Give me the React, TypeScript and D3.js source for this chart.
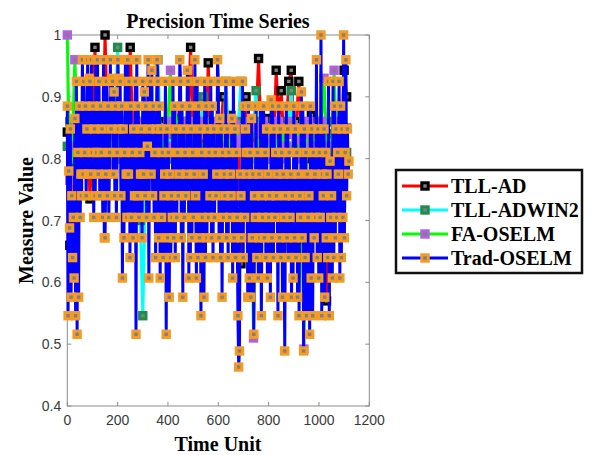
import React from 'react';
import * as d3 from 'd3';

const W = 589;
const H = 455;
const plot = { left: 67.3, right: 369.3, top: 35, bottom: 406 };

const xTicks = [0, 200, 400, 600, 800, 1000, 1200];
const yTicks = [0.4, 0.5, 0.6, 0.7, 0.8, 0.9, 1];

const seriesNames = ['TLL-AD', 'TLL-ADWIN2', 'FA-OSELM', 'Trad-OSELM'];
const lineColors = ['#ff0000', '#00ffff', '#00ff00', '#0000ff'];
const markerColors = ['#000000', '#1e8c4a', '#b45ee8', '#f59a23'];

// time step between samples of each series
const coarseStep = 10;
const fineStep = 3;

// TLL-AD, one sample every 10 time units
const tllAd = [
  0.843, 0.66, 0.82, 0.79, 0.85, 0.8, 0.83, 0.78, 0.86, 0.735,
  0.84, 0.98, 0.82, 0.86, 0.8, 1.0, 0.84, 0.81, 0.87, 0.83,
  0.8, 0.85, 0.82, 0.86, 0.79, 0.98, 0.84, 0.8, 0.85, 0.82,
  0.86, 0.81, 0.84, 0.78, 0.87, 0.82, 0.85, 0.8, 0.83, 0.86,
  0.8, 0.84, 0.82, 0.87, 0.79, 0.85, 0.81, 0.83, 0.86, 0.98,
  0.84, 0.8, 0.86, 0.82, 0.85, 0.79, 0.955, 0.83, 0.81, 0.86,
  0.82, 0.85, 0.9, 0.8, 0.84, 0.87, 0.81, 0.83, 0.86, 0.63,
  0.84, 0.9, 0.8, 0.85, 0.82, 0.86, 0.962, 0.83, 0.81, 0.865,
  0.8, 0.84, 0.82, 0.943, 0.86, 0.91, 0.83, 0.85, 0.925, 0.943,
  0.84, 0.86, 0.925, 0.82, 0.85, 0.8, 0.84, 0.87, 0.81, 0.86,
  0.83, 0.85, 0.8, 0.57, 0.84, 0.82, 0.86, 0.81, 0.85, 0.83,
  0.943, 0.9
];

// TLL-ADWIN2, one sample every 10 time units
const tllAdwin2 = [
  0.82, 0.86, 0.8, 0.84, 0.78, 0.85, 0.81, 0.83, 0.79, 0.86,
  0.82, 0.85, 0.8, 0.84, 0.87, 0.81, 0.83, 0.86, 0.8, 0.85,
  0.98, 0.84, 0.81, 0.86, 0.8, 0.85, 0.82, 0.84, 0.8, 0.7,
  0.546, 0.75, 0.84, 0.81, 0.86, 0.8, 0.96, 0.83, 0.85, 0.81,
  0.84, 0.8, 0.86, 0.82, 0.85, 0.79, 0.84, 0.81, 0.86, 0.83,
  0.8, 0.85, 0.82, 0.84, 0.9, 0.81, 0.86, 0.83, 0.8, 0.85,
  0.82, 0.86, 0.8, 0.925, 0.84, 0.81, 0.85, 0.83, 0.86, 0.925,
  0.82, 0.85, 0.8, 0.84, 0.86, 0.91, 0.81, 0.83, 0.85, 0.8,
  0.84, 0.82, 0.86, 0.81, 0.85, 0.83, 0.8, 0.84, 0.86, 0.91,
  0.82, 0.85, 0.8, 0.84, 0.86, 0.81, 0.83, 0.85, 0.8, 0.84,
  0.86, 0.82, 0.85, 0.8, 0.84, 0.81, 0.86, 0.83, 0.85, 0.82,
  0.84, 0.81
];

// FA-OSELM, one sample every 10 time units
const faOselm = [
  1.0, 0.765, 0.82, 0.96, 0.85, 0.8, 0.84, 0.81, 0.86, 0.79,
  0.84, 0.81, 0.86, 0.8, 0.85, 0.82, 0.84, 0.79, 0.86, 0.81,
  0.84, 0.8, 0.86, 0.82, 0.85, 0.81, 0.84, 0.8, 0.86, 0.83,
  0.8, 0.85, 0.82, 0.84, 0.86, 0.81, 0.83, 0.85, 0.8, 0.84,
  0.86, 0.943, 0.82, 0.88, 0.8, 0.85, 0.83, 0.81, 0.86, 0.84,
  0.82, 0.85, 0.8, 0.84, 0.86, 0.81, 0.83, 0.85, 0.8, 0.84,
  0.86, 0.82, 0.85, 0.81, 0.84, 0.8, 0.86, 0.83, 0.85, 0.82,
  0.84, 0.8, 0.86, 0.82, 0.51, 0.85, 0.81, 0.84, 0.86, 0.8,
  0.83, 0.85, 0.81, 0.84, 0.86, 0.8, 0.85, 0.82, 0.84, 0.86,
  0.81, 0.83, 0.85, 0.8, 0.492, 0.84, 0.86, 0.82, 0.85, 0.81,
  0.84, 0.86, 0.93, 0.82, 0.8, 0.79, 0.943, 0.82, 0.86, 0.84,
  0.82, 0.85
];

// Trad-OSELM, one sample every 3 time units (rows of 30 units)
const tradOselm = [
  0.885, 0.546, 0.78, 0.688, 0.848, 0.576, 0.74, 0.64, 0.705, 0.607,
  0.865, 0.546, 0.925, 0.516, 0.81, 0.576, 0.885, 0.705, 0.775, 0.74,
  0.96, 0.775, 0.925, 0.81, 0.885, 0.74, 0.848, 0.96, 0.775, 0.93,
  0.925, 0.775, 0.96, 0.81, 0.885, 0.705, 0.848, 0.74, 0.96, 0.81,
  0.96, 0.775, 0.925, 0.74, 0.885, 0.81, 0.848, 0.705, 0.96, 0.672,
  0.672, 0.775, 0.925, 0.74, 0.885, 0.705, 0.81, 0.96, 0.848, 0.93,
  0.925, 0.775, 0.908, 0.74, 0.885, 0.705, 0.81, 0.96, 0.848, 0.93,
  0.925, 0.74, 0.885, 0.607, 0.848, 0.672, 0.81, 0.96, 0.775, 0.705,
  0.96, 0.775, 0.925, 0.64, 0.885, 0.705, 0.81, 0.672, 0.848, 0.74,
  0.925, 0.516, 0.96, 0.74, 0.885, 0.705, 0.81, 0.775, 0.848, 0.672,
  0.925, 0.775, 0.908, 0.74, 0.885, 0.705, 0.82, 0.96, 0.607, 0.848,
  0.925, 0.775, 0.943, 0.74, 0.885, 0.705, 0.81, 0.64, 0.848, 0.96,
  0.925, 0.672, 0.885, 0.607, 0.848, 0.705, 0.81, 0.64, 0.74, 0.775,
  0.925, 0.516, 0.848, 0.672, 0.81, 0.576, 0.775, 0.64, 0.74, 0.705,
  0.925, 0.672, 0.885, 0.64, 0.848, 0.705, 0.81, 0.74, 0.775, 0.96,
  0.925, 0.672, 0.885, 0.576, 0.848, 0.705, 0.81, 0.74, 0.775, 0.943,
  0.925, 0.607, 0.885, 0.64, 0.848, 0.672, 0.81, 0.705, 0.775, 0.96,
  0.74, 0.607, 0.925, 0.64, 0.885, 0.672, 0.848, 0.546, 0.81, 0.705,
  0.775, 0.576, 0.925, 0.64, 0.885, 0.672, 0.848, 0.705, 0.81, 0.74,
  0.925, 0.672, 0.885, 0.64, 0.848, 0.705, 0.81, 0.74, 0.775, 0.96,
  0.925, 0.672, 0.865, 0.64, 0.848, 0.576, 0.81, 0.705, 0.775, 0.74,
  0.925, 0.672, 0.848, 0.64, 0.81, 0.705, 0.775, 0.74, 0.865, 0.607,
  0.925, 0.672, 0.848, 0.64, 0.81, 0.705, 0.546, 0.463, 0.489, 0.775,
  0.74, 0.672, 0.925, 0.64, 0.885, 0.705, 0.848, 0.81, 0.775, 0.576,
  0.885, 0.607, 0.81, 0.576, 0.865, 0.672, 0.775, 0.516, 0.74, 0.705,
  0.885, 0.64, 0.81, 0.607, 0.775, 0.672, 0.885, 0.546, 0.74, 0.705,
  0.885, 0.672, 0.81, 0.64, 0.848, 0.607, 0.775, 0.705, 0.74, 0.576,
  0.895, 0.672, 0.885, 0.64, 0.848, 0.705, 0.81, 0.74, 0.775, 0.546,
  0.885, 0.672, 0.848, 0.64, 0.81, 0.576, 0.775, 0.705, 0.489, 0.74,
  0.885, 0.672, 0.848, 0.64, 0.81, 0.705, 0.775, 0.576, 0.74, 0.607,
  0.885, 0.672, 0.848, 0.64, 0.81, 0.576, 0.775, 0.546, 0.74, 0.705,
  0.908, 0.672, 0.885, 0.489, 0.848, 0.64, 0.81, 0.546, 0.775, 0.705,
  0.74, 0.516, 0.885, 0.607, 0.848, 0.546, 0.81, 0.672, 0.775, 0.705,
  0.96, 0.64, 0.848, 0.607, 0.81, 0.705, 1.0, 0.546, 0.775, 0.74,
  0.848, 0.576, 0.81, 0.672, 0.775, 0.64, 0.925, 0.546, 0.796, 0.705,
  0.74, 0.607, 0.925, 0.64, 0.885, 0.672, 0.848, 0.705, 0.81, 0.775,
  0.925, 0.607, 0.885, 0.64, 0.848, 0.705, 1.0, 0.672, 0.81, 0.96,
  0.74, 0.848, 0.775, 0.796
];

const seriesValues = [tllAd, tllAdwin2, faOselm, tradOselm];
const seriesSteps = [coarseStep, coarseStep, coarseStep, fineStep];

const serif = '"Liberation Serif", "Times New Roman", Times, serif';
const sans = '"Liberation Sans", Arial, Helvetica, sans-serif';
const axisColor = '#8c8c8c';
const tickTextColor = '#3a3a3a';
const markerSize = 6.4;
const markerStroke = 3;

export default function App() {
  const x = d3.scaleLinear().domain([0, 1200]).range([plot.left, plot.right]);
  const y = d3.scaleLinear().domain([0.4, 1]).range([plot.bottom, plot.top]);

  const series = seriesValues.map((vals, s) =>
    vals.map((v, i) => ({ t: i * seriesSteps[s], v }))
  );

  const line = d3.line<{ t: number; v: number }>()
    .x(d => x(d.t))
    .y(d => y(d.v));

  const tickLen = 4;
  const half = markerSize / 2;

  return (
    <svg width={W} height={H} style={{ position: 'absolute', left: 0, top: 0, background: '#fff' }}>
      {/* axes box */}
      <rect x={plot.left} y={plot.top} width={plot.right - plot.left} height={plot.bottom - plot.top}
        fill="#fff" stroke={axisColor} strokeWidth={1} />
      {xTicks.map(t => (
        <g key={'xt' + t}>
          <line x1={x(t)} x2={x(t)} y1={plot.bottom} y2={plot.bottom - tickLen} stroke={axisColor} />
          <line x1={x(t)} x2={x(t)} y1={plot.top} y2={plot.top + tickLen} stroke={axisColor} />
          <text x={x(t)} y={plot.bottom + 19} textAnchor="middle" fontFamily={sans} fontSize={14}
            fill={tickTextColor}>{t}</text>
        </g>
      ))}
      {yTicks.map(t => (
        <g key={'yt' + t}>
          <line x1={plot.left} x2={plot.left + tickLen} y1={y(t)} y2={y(t)} stroke={axisColor} />
          <line x1={plot.right} x2={plot.right - tickLen} y1={y(t)} y2={y(t)} stroke={axisColor} />
          <text x={plot.left - 6} y={y(t) + 5} textAnchor="end" fontFamily={sans} fontSize={14}
            fill={tickTextColor}>{t === 1 ? '1' : t.toFixed(1)}</text>
        </g>
      ))}

      {/* series: lines with their markers, in legend order */}
      {series.map((pts, s) => (
        <g key={'s' + s}>
          <path d={line(pts) || ''} fill="none" stroke={lineColors[s]} strokeWidth={3}
            strokeLinejoin="miter" />
          {pts.map((p, i) => (
            <rect key={i} x={x(p.t) - half} y={y(p.v) - half} width={markerSize} height={markerSize}
              fill="#808080" stroke={markerColors[s]} strokeWidth={markerStroke} />
          ))}
        </g>
      ))}

      {/* titles */}
      <text x={218} y={28} textAnchor="middle" fontFamily={serif} fontWeight="bold" fontSize={20}
        fill="#000">Precision Time Series</text>
      <text x={218} y={451} textAnchor="middle" fontFamily={serif} fontWeight="bold" fontSize={20}
        fill="#000">Time Unit</text>
      <text transform={`translate(33 ${(plot.top + plot.bottom) / 2}) rotate(-90)`} textAnchor="middle"
        fontFamily={serif} fontWeight="bold" fontSize={20} fill="#000">Measure Value</text>

      {/* legend */}
      <rect x={396} y={170} width={186} height={103} fill="#fff" stroke="#111" strokeWidth={2.5} />
      {seriesNames.map((name, i) => {
        const ly = 186 + i * 24;
        return (
          <g key={name}>
            <line x1={402} x2={448} y1={ly} y2={ly} stroke={lineColors[i]} strokeWidth={3} />
            <rect x={425 - half} y={ly - half} width={markerSize} height={markerSize}
              fill="#808080" stroke={markerColors[i]} strokeWidth={markerStroke} />
            <text x={451} y={ly + 7} fontFamily={serif} fontWeight="bold" fontSize={20} fill="#000">{name}</text>
          </g>
        );
      })}
    </svg>
  );
}
